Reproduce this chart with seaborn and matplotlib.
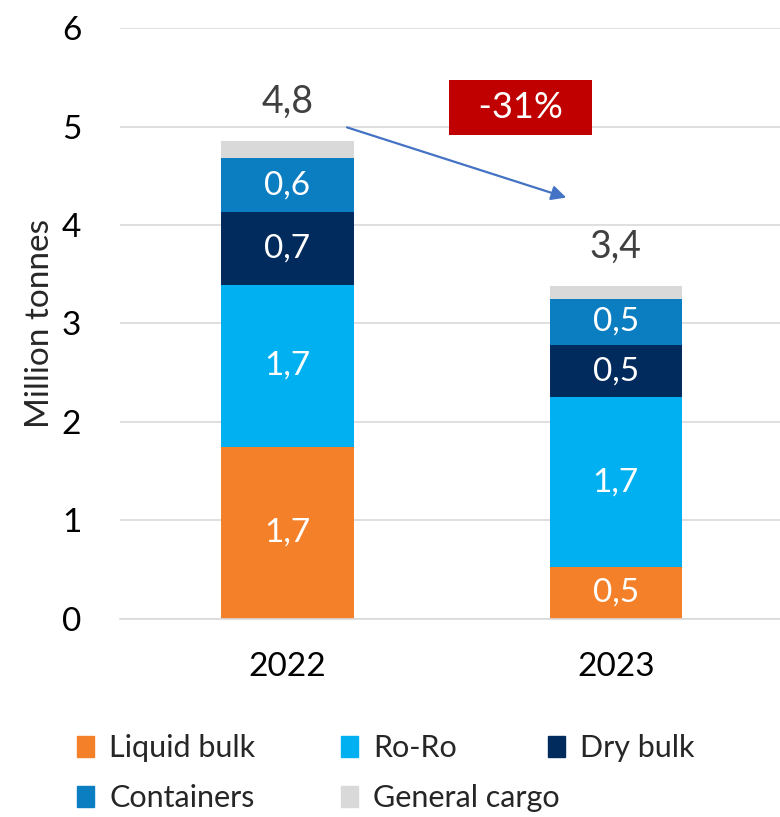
import numpy as np
import seaborn as sns
from matplotlib import pyplot as plt
from matplotlib.patches import Patch

sns.set_theme(style="white")
plt.rcParams["font.family"] = ["Lato", "DejaVu Sans"]

years = ["2022", "2023"]
categories = ["Liquid bulk", "Ro-Ro", "Dry bulk", "Containers", "General cargo"]
liquid_bulk = [1.75, 0.53]
ro_ro = [1.64, 1.72]
dry_bulk = [0.74, 0.53]
containers = [0.55, 0.47]
general_cargo = [0.17, 0.13]
seg_labels = [["1,7", "0,5"], ["1,7", "1,7"], ["0,7", "0,5"], ["0,6", "0,5"], [None, None]]
total_labels = ["4,8", "3,4"]
change_label = "-31%"

colors = ["#F4812A", "#00B0F0", "#002B5C", "#0B7EC2", "#D9D9D9"]
series = [liquid_bulk, ro_ro, dry_bulk, containers, general_cargo]

fig = plt.figure(figsize=(7.8, 8.17), dpi=100)
ax = fig.add_axes([0.154, 0.2424, 0.846, 0.7233])

bottom = np.zeros(len(years))
for vals, col, labs in zip(series, colors, seg_labels):
    sns.barplot(x=years, y=vals, bottom=bottom, color=col, width=0.404,
                saturation=1, ax=ax, linewidth=0)
    for i, (v, lab) in enumerate(zip(vals, labs)):
        if lab:
            ax.text(i, bottom[i] + v / 2, lab, ha="center", va="center",
                    color="white", fontsize=24)
    bottom = bottom + np.array(vals)

for i, lab in enumerate(total_labels):
    ax.text(i, bottom[i] + 0.22, lab, ha="center", va="bottom",
            color="#404040", fontsize=27)

ax.annotate("", xy=(0.857, 4.27), xytext=(0.173, 5.0),
            arrowprops=dict(arrowstyle="-|>", color="#4472C4", lw=1.6,
                            mutation_scale=22))
ax.text(0.711, 5.19, "  " + change_label + "  ", ha="center", va="center",
        color="white", fontsize=26,
        bbox=dict(boxstyle="square,pad=0.3", fc="#C00000", ec="none"))

ax.set_ylim(0, 6)
ax.set_xlim(-0.51, 1.5)
ax.set_yticks(range(7))
ax.yaxis.grid(True, color="#D9D9D9", lw=1.2)
ax.set_axisbelow(True)
for s in ["top", "right", "left"]:
    ax.spines[s].set_visible(False)
ax.spines["bottom"].set_color("#D9D9D9")
ax.spines["bottom"].set_linewidth(1.2)
ax.tick_params(axis="both", length=0, labelsize=24, colors="black")
ax.tick_params(axis="y", pad=28)
ax.tick_params(axis="x", pad=24)
ax.set_ylabel("Million tonnes", fontsize=24, labelpad=5)
ax.set_xlabel("")

# legend laid out as three columns, like the original
columns = [[0, 3], [1, 4], [2]]
col_x = [77 / 780, 341 / 780, 548 / 780]
for idx, x in zip(columns, col_x):
    handles = [Patch(color=colors[k]) for k in idx]
    labels = [categories[k] for k in idx]
    fig.legend(handles, labels, loc="upper left", bbox_to_anchor=(x, 0.101),
               frameon=False, fontsize=22, borderpad=0, borderaxespad=0,
               handlelength=0.55, handleheight=0.7, handletextpad=0.5,
               labelspacing=0.72)

fig.savefig("out.png", dpi=100)
